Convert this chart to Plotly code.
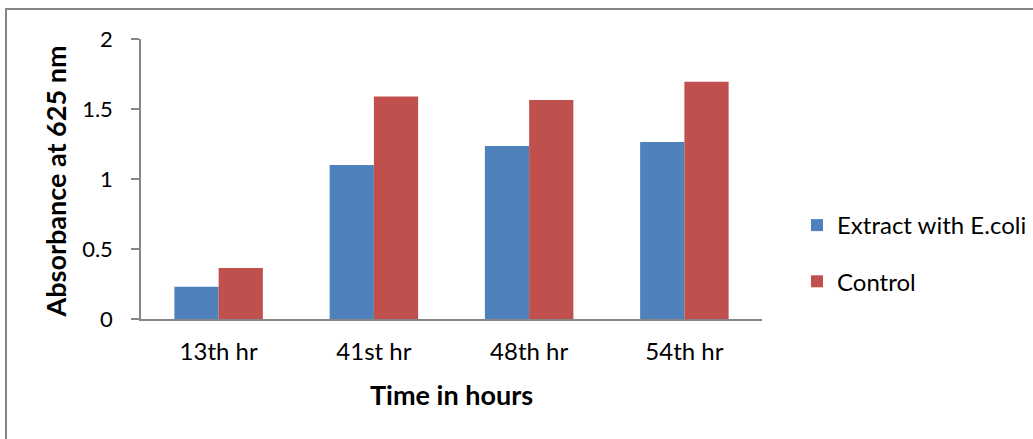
import plotly.graph_objects as go

categories = ["13th hr", "41st hr", "48th hr", "54th hr"]
extract_vals = [0.23, 1.10, 1.235, 1.265]
control_vals = [0.365, 1.59, 1.565, 1.695]
series_names = ["Extract with E.coli", "Control"]
y_ticks = [0, 0.5, 1, 1.5, 2]
y_tick_labels = ["0", "0.5", "1", "1.5", "2"]
x_title = "Time in hours"
y_title = "Absorbance at 625 nm"

FONT = "Lato"
W, H = 1033, 439
L, R, T, B = 141, 271, 39, 120
pw, ph = W - L - R, H - T - B

def px_x(p):
    return (p - L) / pw

def px_y(p):
    return (H - B - p) / ph

fig = go.Figure()
fig.add_trace(go.Bar(x=categories, y=extract_vals, name=series_names[0],
                     marker=dict(color="#4F81BD", line=dict(width=0)),
                     legendgroup="a"))
fig.add_trace(go.Bar(x=categories, y=control_vals, name=series_names[1],
                     marker=dict(color="#C0504D", line=dict(width=0)),
                     legendgroup="b"))

fig.update_layout(
    width=W, height=H,
    margin=dict(l=L, r=R, t=T, b=B, autoexpand=False),
    paper_bgcolor="white", plot_bgcolor="white",
    barmode="group", bargap=0.43, bargroupgap=0,
    font=dict(family=FONT, color="black"),
    showlegend=True,
    legend=dict(x=px_x(797), y=px_y(203), xanchor="left", yanchor="top",
                font=dict(size=24, family=FONT, color="black"),
                tracegroupgap=22, bgcolor="rgba(0,0,0,0)"),
    xaxis=dict(showline=True, linecolor="#868686", linewidth=1.5,
               ticks="", showgrid=False, zeroline=False,
               tickfont=dict(size=24, family=FONT, color="black"),
               ticklabelstandoff=10, fixedrange=True),
    yaxis=dict(range=[0, 2], tickvals=y_ticks, ticktext=y_tick_labels,
               showline=True, linecolor="#868686", linewidth=1.5,
               ticks="outside", ticklen=8, tickcolor="#868686", tickwidth=1.5,
               showgrid=False, zeroline=False,
               tickfont=dict(size=22, family=FONT, color="black"),
               ticklabelstandoff=14, fixedrange=True),
    annotations=[
        dict(text="<b>" + x_title + "</b>", xref="paper", yref="paper",
             x=px_x(451.5), y=px_y(394), xanchor="center", yanchor="middle",
             showarrow=False, font=dict(size=27, family=FONT, color="black")),
        dict(text="<b>" + y_title + "</b>", xref="paper", yref="paper",
             x=px_x(55), y=px_y(181.5), xanchor="center", yanchor="middle",
             textangle=-90, showarrow=False,
             font=dict(size=27, family=FONT, color="black")),
    ],
    shapes=[
        dict(type="rect", xref="paper", yref="paper",
             x0=px_x(6), x1=px_x(1045), y0=px_y(450), y1=px_y(9),
             line=dict(color="#868686", width=2), fillcolor="rgba(0,0,0,0)",
             layer="below"),
    ],
)

fig.write_html("out.html", config={"displayModeBar": False},
               post_script="document.body.style.margin='0px';document.body.style.padding='0px';")
